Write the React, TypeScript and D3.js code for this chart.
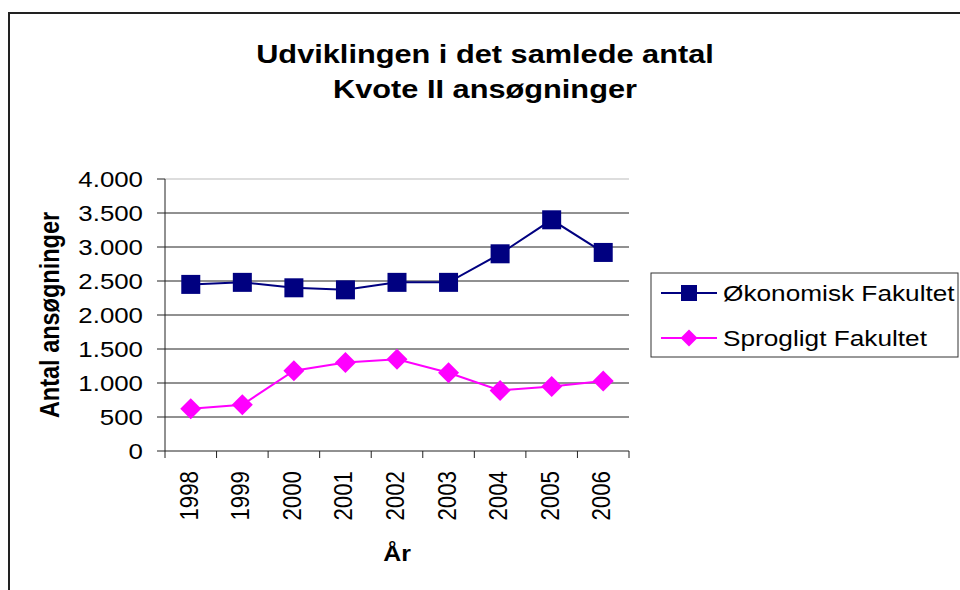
import React from 'react';
import * as d3 from 'd3';

const years = ['1998', '1999', '2000', '2001', '2002', '2003', '2004', '2005', '2006'];
const okonomisk = [2450, 2480, 2400, 2370, 2480, 2480, 2900, 3400, 2920];
const sprogligt = [620, 680, 1180, 1300, 1350, 1150, 890, 950, 1030];
const yTicks = [0, 500, 1000, 1500, 2000, 2500, 3000, 3500, 4000];
const seriesNames = ['Økonomisk Fakultet', 'Sprogligt Fakultet'];
const titleLines = ['Udviklingen i det samlede antal', 'Kvote II ansøgninger'];
const yTitle = 'Antal ansøgninger';
const xTitle = 'År';

const NAVY = '#000080';
const MAGENTA = '#FF00FF';
const SX = 1.16;
const FONT = '"Liberation Sans", Arial, sans-serif';

const locale = d3.formatLocale({ decimal: ',', thousands: '.', grouping: [3], currency: ['', ''] });
const fmt = locale.format(',');

export default function App() {
  const left = 165, right = 629, top = 179, bottom = 451;
  const x = d3.scaleBand<string>().domain(years).range([left, right]).paddingInner(0).paddingOuter(0);
  const y = d3.scaleLinear().domain([0, 4000]).range([bottom, top]);
  const cx = (d: string) => (x(d) as number) + x.bandwidth() / 2;
  const line = d3.line<number>().x((_, i) => cx(years[i])).y((v) => y(v));
  const boundaries = years.map((d) => x(d) as number).concat([right]);

  const square = (px: number, py: number, s: number, key: any) => (
    <rect key={key} x={px - s / 2} y={py - s / 2} width={s} height={s} fill={NAVY} />
  );
  const diamond = (px: number, py: number, r: number, key: any) => (
    <path key={key} d={`M${px},${py - r}L${px + r},${py}L${px},${py + r}L${px - r},${py}Z`} fill={MAGENTA} />
  );

  const legendX = 651, legendY = 273, legendW = 307, legendH = 84;
  const entryY = [293, 338];

  return (
    <svg width={960} height={590} style={{ position: 'absolute', left: 0, top: 0, background: '#fff' }} fontFamily={FONT}>
      <rect x={0} y={0} width={960} height={590} fill="#fff" />
      {/* chart frame */}
      <rect x={9} y={13} width={1000} height={700} fill="none" stroke="#222" strokeWidth={2} />

      {/* title */}
      {titleLines.map((t, i) => (
        <text key={i} transform={`translate(485,${63 + i * 35}) scale(${SX},1)`} textAnchor="middle" fontSize={26.5} fontWeight="bold" fill="#000">
          {t}
        </text>
      ))}

      {/* gridlines */}
      {yTicks.map((t) => (
        <line key={t} x1={left} x2={right} y1={y(t)} y2={y(t)} stroke={t === 4000 ? '#bbb' : t === 0 ? 'none' : '#222'} strokeWidth={1} />
      ))}

      {/* y axis */}
      <line x1={left} x2={left} y1={top} y2={bottom} stroke="#222" strokeWidth={1} />
      {yTicks.map((t) => (
        <g key={t}>
          <line x1={157} x2={left} y1={y(t)} y2={y(t)} stroke="#222" strokeWidth={1} />
          <text transform={`translate(143,${y(t) + 8}) scale(${SX},1)`} textAnchor="end" fontSize={22.3} fill="#000">
            {fmt(t)}
          </text>
        </g>
      ))}

      {/* x axis */}
      <line x1={left} x2={right} y1={bottom} y2={bottom} stroke="#222" strokeWidth={1} />
      {boundaries.map((b, i) => (
        <line key={i} x1={b} x2={b} y1={bottom} y2={bottom + 7} stroke="#222" strokeWidth={1} />
      ))}
      {years.map((d) => (
        <text key={d} transform={`translate(${cx(d) + 7},471) scale(${SX},1) rotate(-90)`} textAnchor="end" fontSize={22.3} fill="#000">
          {d}
        </text>
      ))}

      {/* axis titles */}
      <text transform={`translate(59,${(top + bottom) / 2}) scale(${SX},1) rotate(-90)`} textAnchor="middle" fontSize={23.5} fontWeight="bold" fill="#000">
        {yTitle}
      </text>
      <text transform={`translate(397,561) scale(${SX},1)`} textAnchor="middle" fontSize={21.5} fontWeight="bold" fill="#000">
        {xTitle}
      </text>

      {/* series */}
      <path d={line(okonomisk) as string} fill="none" stroke={NAVY} strokeWidth={2} />
      <path d={line(sprogligt) as string} fill="none" stroke={MAGENTA} strokeWidth={2} />
      {okonomisk.map((v, i) => square(cx(years[i]), y(v), 19, 'o' + i))}
      {sprogligt.map((v, i) => diamond(cx(years[i]), y(v), 10.5, 's' + i))}

      {/* legend */}
      <rect x={legendX} y={legendY} width={legendW} height={legendH} fill="#fff" stroke="#333" strokeWidth={1} />
      {seriesNames.map((n, i) => (
        <g key={n}>
          <line x1={661} x2={717} y1={entryY[i]} y2={entryY[i]} stroke={i === 0 ? NAVY : MAGENTA} strokeWidth={2} />
          {i === 0 ? square(689, entryY[i], 16, 'ls') : diamond(689, entryY[i], 8.5, 'ld')}
          <text transform={`translate(723,${entryY[i] + 8}) scale(${SX},1)`} fontSize={22.6} fill="#000">
            {n}
          </text>
        </g>
      ))}
    </svg>
  );
}
